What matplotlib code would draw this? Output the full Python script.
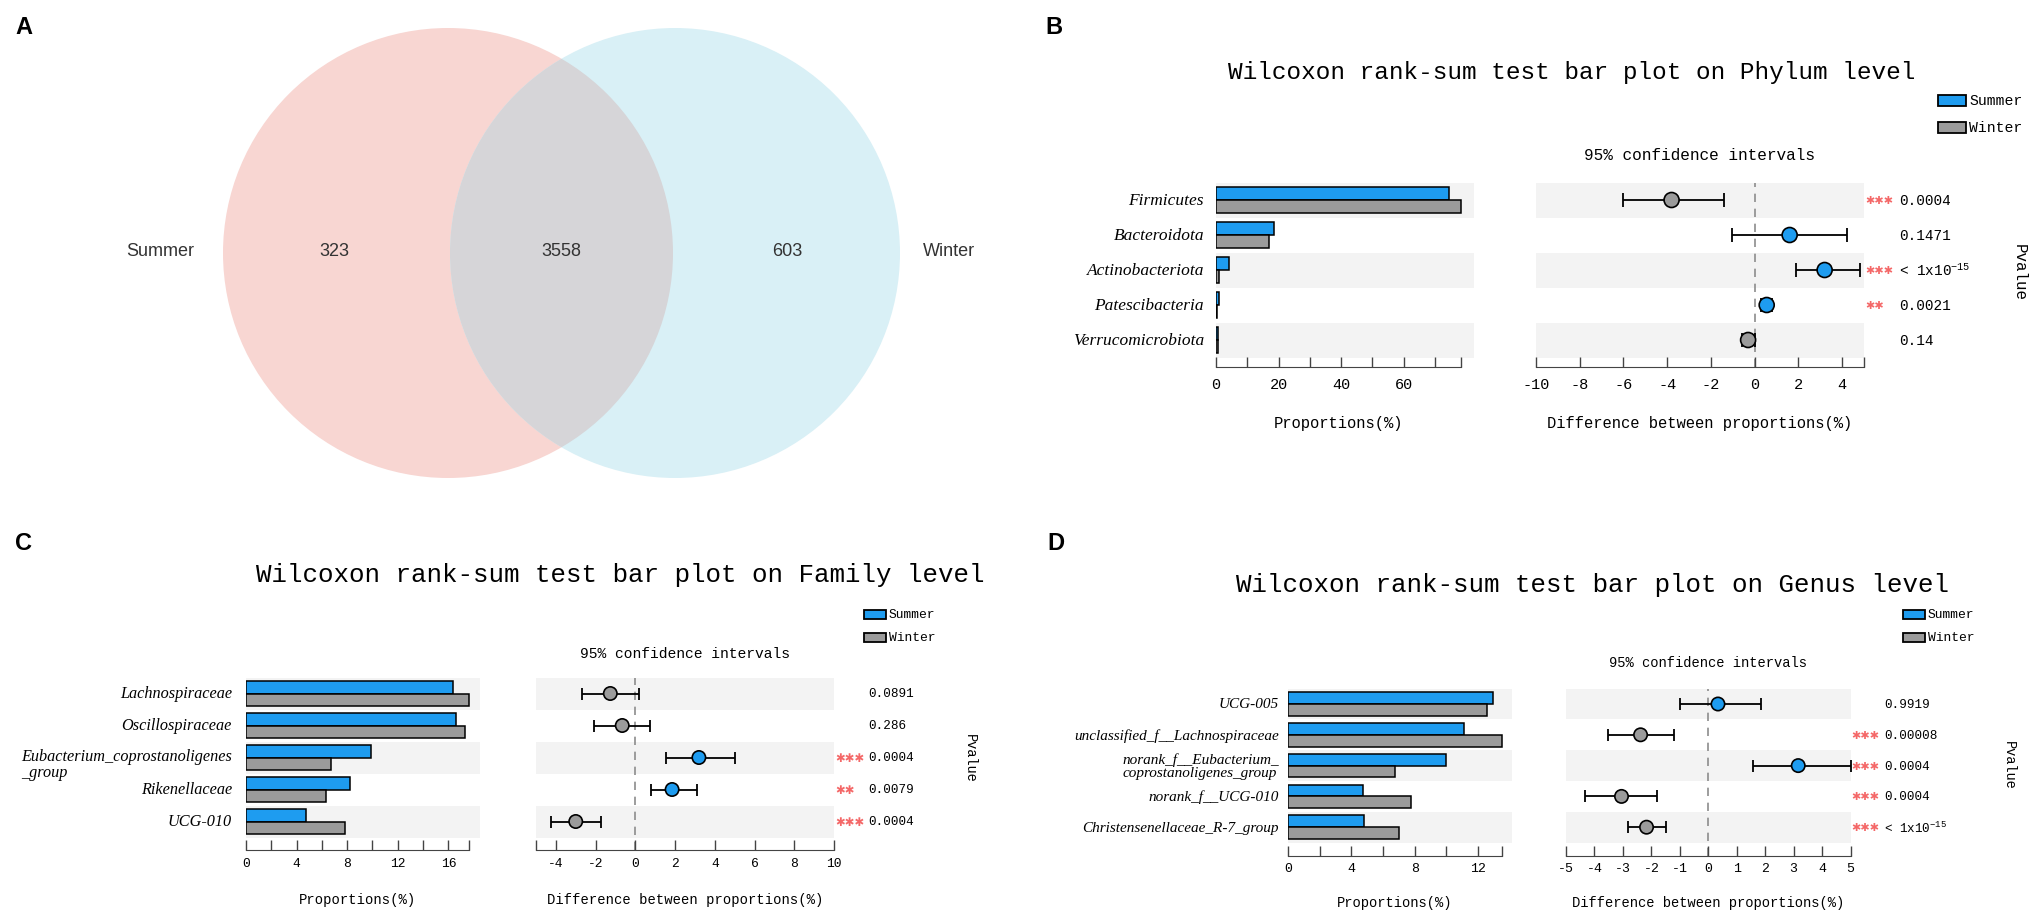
import numpy as np
import matplotlib
matplotlib.use("Agg")
import matplotlib.pyplot as plt
from matplotlib.patches import Circle, Rectangle

plt.rcParams['font.family'] = ['Liberation Mono', 'DejaVu Sans']
plt.rcParams['axes.unicode_minus'] = False

W, H = 2033, 912
BLUE = '#1E9CF0'
GREY = '#9B9B9B'
BAND = '#F3F3F3'
STAR = '#F46868'
SERIF = 'Liberation Serif'
SANS = 'Liberation Sans'

# ---- data ----
venn_groups = ['Summer', 'Winter']
venn_counts = [323, 3558, 603]          # summer only, shared, winter only

phylum_taxa = ['Firmicutes', 'Bacteroidota', 'Actinobacteriota',
               'Patescibacteria', 'Verrucomicrobiota']
phylum_summer = [74.6, 18.5, 4.0, 1.0, 0.6]
phylum_winter = [78.5, 16.9, 1.0, 0.4, 0.6]
phylum_diff = [-3.8, 1.6, 3.2, 0.55, -0.3]
phylum_lo = [-6.0, -1.05, 1.9, 0.3, -0.6]
phylum_hi = [-1.4, 4.2, 4.8, 0.8, 0.0]
phylum_p = ['0.0004', '0.1471', '< 1x10$^{\\mathregular{-15}}$', '0.0021', '0.14']
phylum_stars = [3, 0, 3, 2, 0]

family_taxa = ['Lachnospiraceae', 'Oscillospiraceae',
               'Eubacterium_coprostanoligenes\n_group', 'Rikenellaceae', 'UCG-010']
family_summer = [16.4, 16.6, 9.85, 8.2, 4.75]
family_winter = [17.6, 17.3, 6.7, 6.3, 7.8]
family_diff = [-1.26, -0.66, 3.2, 1.85, -3.0]
family_lo = [-2.7, -2.1, 1.56, 0.77, -4.26]
family_hi = [0.17, 0.73, 5.0, 3.1, -1.73]
family_p = ['0.0891', '0.286', '0.0004', '0.0079', '0.0004']
family_stars = [0, 0, 3, 2, 3]

genus_taxa = ['UCG-005', 'unclassified_f__Lachnospiraceae',
              'norank_f__Eubacterium_\ncoprostanoligenes_group',
              'norank_f__UCG-010', 'Christensenellaceae_R-7_group']
genus_summer = [12.95, 11.1, 9.95, 4.75, 4.8]
genus_winter = [12.6, 13.5, 6.75, 7.8, 7.0]
genus_diff = [0.34, -2.38, 3.16, -3.05, -2.17]
genus_lo = [-1.0, -3.54, 1.58, -4.33, -2.83]
genus_hi = [1.86, -1.19, 5.0, -1.82, -1.48]
genus_p = ['0.9919', '0.00008', '0.0004', '0.0004', '< 1x10$^{\\mathregular{-15}}$']
genus_stars = [0, 3, 3, 3, 3]

fig = plt.figure(figsize=(W / 100, H / 100), dpi=100)


def ftext(x, y, s, **kw):
    return fig.text(x / W, 1 - y / H, s, **kw)


def add_ax(x0, x1, y0, y1):
    return fig.add_axes([x0 / W, 1 - y1 / H, (x1 - x0) / W, (y1 - y0) / H])


# ---- A: venn ----
axv = add_ax(0, W, 0, H)
axv.set_xlim(0, W)
axv.set_ylim(H, 0)
axv.axis('off')
c_left = Circle((448, 254), 225, fc='#F8D6D2', ec='none')
c_right = Circle((675, 254), 225, fc='#D9F0F6', ec='none')
axv.add_patch(c_left)
axv.add_patch(c_right)
c_mid = Circle((448, 254), 225, fc='#D6D5D8', ec='none')
axv.add_patch(c_mid)
c_mid.set_clip_path(c_right)
for x, s in zip([334, 561, 787], venn_counts):
    axv.text(x, 252, str(s), ha='center', va='center', family=SANS, fontsize=13, color='#333333')
axv.text(160, 252, venn_groups[0], ha='center', va='center', family=SANS, fontsize=13, color='#333333')
axv.text(949, 252, venn_groups[1], ha='center', va='center', family=SANS, fontsize=13, color='#333333')

for x, y, s in [(24, 27, 'A'), (1054, 27, 'B'), (24, 543, 'C'), (1056, 543, 'D')]:
    ftext(x, y, s, ha='center', va='center', family=SANS, fontweight='bold', fontsize=17)


def draw_panel(g, taxa, summer, winter, diff, lo, hi, pvals, stars):
    n = len(taxa)
    rows = np.arange(n)
    y0 = g['row0'] - 0.5 * g['pitch']
    y1 = y0 + (g['ybot'] + 0.5) * g['pitch']
    axb = add_ax(g['bx0'], g['bx1'], y0, y1)
    axc = add_ax(g['cx0'], g['cx1'], y0, y1)
    for ax in (axb, axc):
        ax.set_ylim(g['ybot'], -0.5)
        ax.set_facecolor('none')
        for i in rows[::2]:
            ax.axhspan(i - 0.5, i + 0.5, color=BAND, lw=0, zorder=0)
        for s in ('left', 'right', 'top'):
            ax.spines[s].set_visible(False)
        ax.spines['bottom'].set_color('#444444')
        ax.tick_params(axis='y', left=False, labelleft=False)
        ax.tick_params(axis='x', which='both', direction='in', length=7, width=1,
                       color='#444444', pad=g['pad'], labelsize=g['tick_fs'])

    # proportions
    h = 0.38
    axb.barh(rows - h / 2, summer, height=h, color=BLUE, edgecolor='k', lw=1.1, zorder=2)
    axb.barh(rows + h / 2, winter, height=h, color=GREY, edgecolor='k', lw=1.1, zorder=2)
    axb.set_xlim(0, g['bxmax'])
    top = max(max(summer), max(winter))
    axb.spines['bottom'].set_bounds(0, top)
    axb.set_xticks(g['bmajor'])
    axb.set_xticks(list(g['bminor']) + [top], minor=True)

    # differences
    axc.set_xlim(*g['cxlim'])
    axc.set_xticks(g['cmajor'])
    axc.set_xticks(g['cminor'], minor=True)
    axc.axvline(0, color='#8C8C8C', lw=1.2, ls=(0, (5, 4)), zorder=1)
    d = np.array(diff)
    axc.errorbar(d, rows, xerr=[d - np.array(lo), np.array(hi) - d], fmt='none',
                 ecolor='k', elinewidth=1.3, capsize=g['cap'], capthick=1.3,
                 zorder=3, clip_on=False)
    cols = [BLUE if v > 0 else GREY for v in diff]
    axc.scatter(d, rows, s=g['ms'] ** 2, c=cols, edgecolors='k', linewidths=1.2,
                zorder=4, clip_on=False)

    # taxa labels
    tr = axb.get_yaxis_transform()
    xf = (g['lab_x'] - g['bx0']) / (g['bx1'] - g['bx0'])
    for i, t in enumerate(taxa):
        if '\n' in t and g['wrap'] == 'top':
            axb.annotate(t, (xf, i), xycoords=tr, xytext=(0, 7), textcoords='offset points',
                         ha='right', va='top', multialignment='left', family=SERIF,
                         style='italic', fontsize=g['lab_fs'], linespacing=1.05)
        else:
            axb.text(xf, i, t, transform=tr, ha='right', va='center', multialignment='left',
                     family=SERIF, style='italic', fontsize=g['lab_fs'], linespacing=1.05)

    # p values and significance marks
    trc = axc.get_yaxis_transform()
    span = g['cx1'] - g['cx0']
    pf = (g['p_x'] - g['cx0']) / span
    sf = (g['cx1'] + 1 - g['cx0']) / span
    for i, (p, s) in enumerate(zip(pvals, stars)):
        axc.text(pf, i, p, transform=trc, ha='left', va='center', fontsize=g['p_fs'])
        if s:
            axc.text(sf, i, '\u2731' * s, transform=trc, ha='left', va='center',
                     color=STAR, family=['DejaVu Sans'], fontsize=g['star_fs'])

    # titles, legend, axis texts
    ftext(g['title_x'], g['title_y'], g['title'], ha='center', va='center', fontsize=g['title_fs'])
    lx, ly, lw_, lh = g['leg']
    for k, (name, col) in enumerate([('Summer', BLUE), ('Winter', GREY)]):
        yy = ly + k * g['leg_gap']
        fig.add_artist(Rectangle((lx / W, 1 - (yy + lh / 2) / H), lw_ / W, lh / H,
                                 transform=fig.transFigure, fc=col, ec='k', lw=1.3))
        ftext(lx + lw_ + 3, yy, name, ha='left', va='center', fontsize=g['leg_fs'])
    ftext((g['cx0'] + g['cx1']) / 2, g['ci_y'], '95% confidence intervals',
          ha='center', va='center', fontsize=g['ci_fs'])
    px_top = g['bx0'] + top / g['bxmax'] * (g['bx1'] - g['bx0'])
    ftext((g['bx0'] + px_top) / 2, g['xl_y'], 'Proportions(%)', ha='center', va='center',
          fontsize=g['xl_fs'])
    ftext((g['cx0'] + g['cx1']) / 2, g['xl_y'], 'Difference between proportions(%)',
          ha='center', va='center', fontsize=g['xl_fs'])
    ftext(g['pv_x'], g['pv_y'], 'Pvalue', rotation=270, ha='center', va='center',
          fontsize=g['pv_fs'])


geo_b = dict(bx0=1216, bx1=1474, bxmax=82.5, bmajor=[0, 20, 40, 60], bminor=[10, 30, 50, 70],
             cx0=1536, cx1=1864, cxlim=(-10, 5), cmajor=list(range(-10, 5, 2)), cminor=[5],
             row0=201, pitch=35, ybot=4.77, pad=7, tick_fs=11,
             lab_x=1204, lab_fs=12.5, wrap='center', p_x=1899, p_fs=10.4, star_fs=8.0,
             cap=4.7, ms=10.8,
             title='Wilcoxon rank-sum test bar plot on Phylum level', title_x=1572, title_y=72,
             title_fs=17.6, leg=(1938, 101, 28, 11), leg_gap=27, leg_fs=10.6,
             ci_y=156, ci_fs=11.6, xl_y=424, xl_fs=11.2, pv_x=2019, pv_y=272, pv_fs=11.4)

geo_c = dict(bx0=246, bx1=480, bxmax=18.5, bmajor=[0, 4, 8, 12, 16], bminor=[2, 6, 10, 14],
             cx0=536, cx1=834, cxlim=(-5, 10), cmajor=list(range(-4, 11, 2)), cminor=[-5],
             row0=694.5, pitch=32, ybot=4.89, pad=5, tick_fs=9.4,
             lab_x=232, lab_fs=11.7, wrap='top', p_x=868, p_fs=9.1, star_fs=8.4,
             cap=4.3, ms=9.6,
             title='Wilcoxon rank-sum test bar plot on Family level', title_x=620, title_y=575,
             title_fs=18.6, leg=(864, 615, 22, 9), leg_gap=23, leg_fs=9.4,
             ci_y=654, ci_fs=10.5, xl_y=900, xl_fs=10, pv_x=970, pv_y=758, pv_fs=9.8)

geo_d = dict(bx0=1288, bx1=1512, bxmax=14.15, bmajor=[0, 4, 8, 12], bminor=[2, 6, 10],
             cx0=1566, cx1=1850.6, cxlim=(-5, 5), cmajor=list(range(-5, 6)), cminor=[],
             row0=705, pitch=30.8, ybot=4.935, pad=4.5, tick_fs=9.5,
             lab_x=1279, lab_fs=11, wrap='center', p_x=1884, p_fs=9.1, star_fs=8.0,
             cap=4.3, ms=9.6,
             title='Wilcoxon rank-sum test bar plot on Genus level', title_x=1592, title_y=585,
             title_fs=18.6, leg=(1903, 615, 22, 9), leg_gap=23, leg_fs=9.4,
             ci_y=663, ci_fs=9.9, xl_y=903, xl_fs=9.9, pv_x=2009, pv_y=765, pv_fs=9.8)

draw_panel(geo_b, phylum_taxa, phylum_summer, phylum_winter, phylum_diff, phylum_lo,
           phylum_hi, phylum_p, phylum_stars)
draw_panel(geo_c, family_taxa, family_summer, family_winter, family_diff, family_lo,
           family_hi, family_p, family_stars)
draw_panel(geo_d, genus_taxa, genus_summer, genus_winter, genus_diff, genus_lo,
           genus_hi, genus_p, genus_stars)

fig.savefig('out.png', dpi=100)
